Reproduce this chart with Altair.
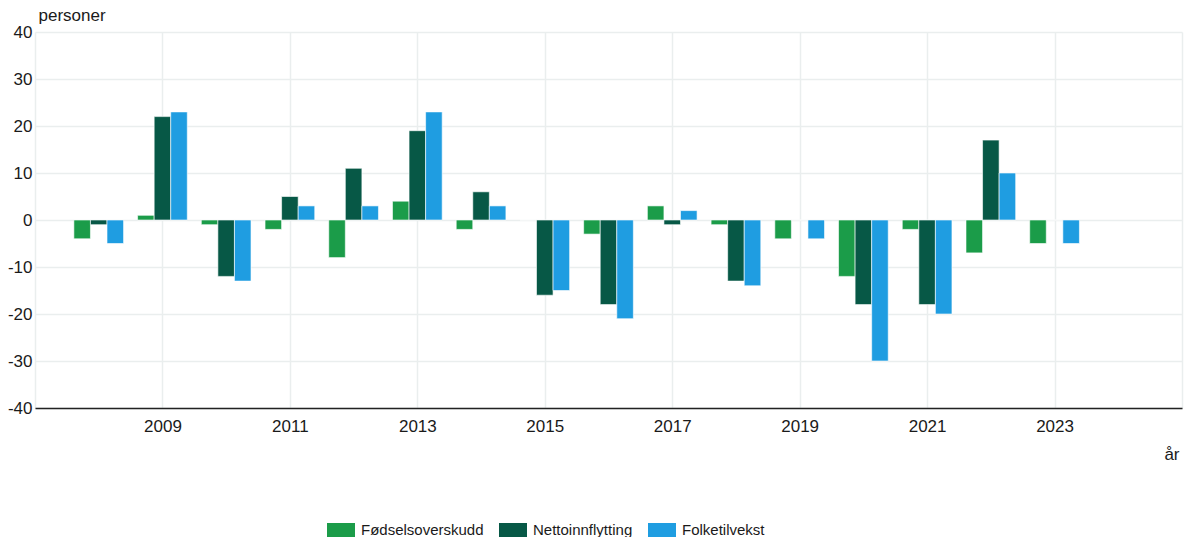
import altair as alt
import pandas as pd

years = list(range(2008, 2024))
fodsel = [-4, 1, -1, -2, -8, 4, -2, 0, -3, 3, -1, -4, -12, -2, -7, -5]
netto = [-1, 22, -12, 5, 11, 19, 6, -16, -18, -1, -13, 0, -18, -18, 17, 0]
folke = [-5, 23, -13, 3, 3, 23, 3, -15, -21, 2, -14, -4, -30, -20, 10, -5]

series = ["Fødselsoverskudd", "Nettoinnflytting", "Folketilvekst"]
colors = ["#1b9c49", "#075846", "#1f9de1"]

rows = []
for i, y in enumerate(years):
    for k, (name, vals) in enumerate(zip(series, [fodsel, netto, folke])):
        rows.append({"år": y, "serie": name, "idx": k, "verdi": vals[i]})
df = pd.DataFrame(rows)

font = "Liberation Sans"
W, H = 1147, 376

chart = alt.Chart(df).transform_calculate(
    x0="datum['år'] + (datum.idx - 1) * 0.26 - 0.13",
    x1="datum['år'] + (datum.idx - 1) * 0.26 + 0.13",
).mark_bar(stroke="#ffffff", strokeWidth=1, strokeOpacity=0.6).encode(
    x=alt.X("x0:Q",
            scale=alt.Scale(domain=[2007, 2025], nice=False, zero=False),
            axis=alt.Axis(values=list(range(2007, 2026, 2)),
                          labelExpr="datum.value == 2007 || datum.value == 2025 ? '' : '' + datum.value",
                          title="år", titleAlign="right", titleBaseline="bottom",
                          titleX=1144, titleY=55, titleFontWeight="normal",
                          titleFont=font, titleFontSize=17, titleColor="#1a1a1a",
                          labelFont=font, labelFontSize=17, labelColor="#1a1a1a",
                          labelPadding=10, ticks=False, domain=True,
                          domainColor="#222", domainWidth=1.5,
                          grid=True, gridColor="#eaeeee", gridWidth=1.5,
                          labelFlush=False)),
    x2="x1:Q",
    y=alt.Y("verdi:Q",
            scale=alt.Scale(domain=[-40, 40], nice=False),
            axis=alt.Axis(values=list(range(-40, 41, 10)),
                          labelExpr="'' + datum.value",
                          title="personer", titleAngle=0, titleAlign="left",
                          titleBaseline="bottom", titleX=3, titleY=-8,
                          titleFontWeight="normal", titleFont=font,
                          titleFontSize=17, titleColor="#1a1a1a",
                          labelFont=font, labelFontSize=17, labelColor="#1a1a1a",
                          labelPadding=3, ticks=False, domain=False,
                          grid=True, gridColor="#eaeeee", gridWidth=1.5)),
    y2=alt.datum(0),
    color=alt.Color("serie:N",
                    scale=alt.Scale(domain=series, range=colors),
                    legend=alt.Legend(title=None, orient="none", direction="horizontal",
                                      legendX=292, legendY=484,
                                      symbolType="M-1,-0.5H1V0.5H-1Z", symbolSize=784,
                                      symbolStrokeWidth=0, symbolOpacity=1,
                                      labelFont=font, labelFontSize=15, labelColor="#1a1a1a",
                                      labelOffset=6, columnPadding=15)),
).properties(
    width=W, height=H,
    autosize=alt.AutoSizeParams(type="none"),
    padding={"left": 35, "top": 32, "right": 2, "bottom": 129},
).configure_view(stroke=None)

chart.save("out.html", embed_options={"renderer": "svg", "actions": False})
